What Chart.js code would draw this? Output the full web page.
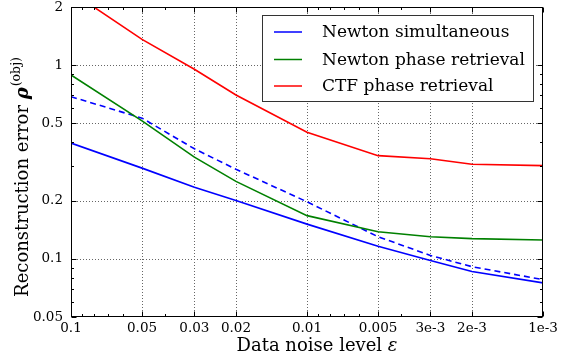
<!DOCTYPE html>
<html>
<head>
<meta charset="utf-8">
<script src="https://cdn.jsdelivr.net/npm/chart.js@4"></script>
<style>
  html, body { margin: 0; padding: 0; background: #fff; }
  #wrap { width: 561px; height: 360px; }
</style>
</head>
<body>
<div id="wrap"><canvas id="chart" width="561" height="360"></canvas></div>
<script>
// Noise levels (x) and reconstruction errors (y) for each method
const noiseLevels = [0.1, 0.05, 0.03, 0.02, 0.01, 0.005, 0.003, 0.002, 0.001];
const noiseTickLabels = ['0.1', '0.05', '0.03', '0.02', '0.01', '0.005', '3e-3', '2e-3', '1e-3'];
const errorTicks = [0.05, 0.1, 0.2, 0.5, 1, 2];
const errorTickLabels = ['0.05', '0.1', '0.2', '0.5', '1', '2'];

const newtonSimultaneous   = [0.396, 0.294, 0.234, 0.200, 0.151, 0.116, 0.098, 0.086, 0.075];
const newtonSimultaneousB  = [0.688, 0.533, 0.370, 0.290, 0.197, 0.130, 0.104, 0.091, 0.078];
const newtonPhaseRetrieval = [0.891, 0.516, 0.335, 0.251, 0.167, 0.138, 0.130, 0.127, 0.125];
const ctfPhaseRetrieval    = [2.40, 1.36, 0.954, 0.702, 0.451, 0.341, 0.329, 0.308, 0.303];

const SERIF = '"DejaVu Serif", serif';

function points(values) {
  return noiseLevels.map((x, i) => ({ x: x, y: values[i] }));
}
function labelFor(values, labels, v) {
  let best = 0;
  for (let i = 1; i < values.length; i++) {
    if (Math.abs(Math.log(values[i] / v)) < Math.abs(Math.log(values[best] / v))) best = i;
  }
  return labels[best];
}

// Dotted grid, boxed frame with inward ticks, legend and axis titles
const decorations = {
  id: 'decorations',
  beforeDatasetsDraw(chart) {
    const { ctx, chartArea: a, scales: { x, y } } = chart;
    ctx.save();
    ctx.strokeStyle = '#666';
    ctx.lineWidth = 1;
    ctx.setLineDash([1, 2]);
    noiseLevels.forEach(v => {
      const px = Math.round(x.getPixelForValue(v)) + 0.5;
      if (px <= a.left + 1 || px >= a.right - 1) return;
      ctx.beginPath(); ctx.moveTo(px, a.top); ctx.lineTo(px, a.bottom); ctx.stroke();
    });
    errorTicks.forEach(v => {
      const py = Math.round(y.getPixelForValue(v)) + 0.5;
      if (py <= a.top + 1 || py >= a.bottom - 1) return;
      ctx.beginPath(); ctx.moveTo(a.left, py); ctx.lineTo(a.right, py); ctx.stroke();
    });
    ctx.restore();
  },
  afterDatasetsDraw(chart) {
    const { ctx, chartArea: a, scales: { x, y } } = chart;
    ctx.save();
    ctx.setLineDash([]);
    ctx.strokeStyle = '#000';
    ctx.lineWidth = 1;

    // inward ticks on all four sides
    const L = Math.round(a.left) + 0.5, R = Math.round(a.right) - 0.5;
    const T = Math.round(a.top) + 0.5, B = Math.round(a.bottom) - 0.5;
    ctx.beginPath();
    for (const d of [0.001, 0.01, 0.1]) {
      for (let m = 1; m <= 9; m++) {
        const v = m * d;
        if (v < 0.001 * 0.999 || v > 0.1 * 1.001) continue;
        const major = noiseLevels.some(t => Math.abs(t / v - 1) < 1e-6);
        const len = major ? 5 : 2.5;
        const px = Math.round(x.getPixelForValue(v)) + 0.5;
        ctx.moveTo(px, B); ctx.lineTo(px, B - len);
        ctx.moveTo(px, T); ctx.lineTo(px, T + len);
      }
    }
    for (const d of [0.01, 0.1, 1]) {
      for (let m = 1; m <= 9; m++) {
        const v = m * d;
        if (v < 0.05 * 0.999 || v > 2 * 1.001) continue;
        const major = errorTicks.some(t => Math.abs(t / v - 1) < 1e-6);
        const len = major ? 5 : 2.5;
        const py = Math.round(y.getPixelForValue(v)) + 0.5;
        ctx.moveTo(L, py); ctx.lineTo(L + len, py);
        ctx.moveTo(R, py); ctx.lineTo(R - len, py);
      }
    }
    ctx.stroke();

    // frame
    ctx.strokeRect(L, T, R - L, B - T);

    // legend
    const lx = 262.5, ly = 15.5, lw = 271, lh = 86;
    ctx.fillStyle = '#fff';
    ctx.fillRect(lx, ly, lw, lh);
    ctx.strokeStyle = '#333';
    ctx.lineWidth = 1;
    ctx.strokeRect(lx, ly, lw, lh);
    const entries = chart.data.datasets.filter(ds => ds.label);
    const rowY = [32, 59.5, 86];
    ctx.font = '17px ' + SERIF;
    ctx.textBaseline = 'middle';
    ctx.textAlign = 'left';
    entries.forEach((ds, i) => {
      ctx.strokeStyle = ds.borderColor;
      ctx.lineWidth = 1.5;
      ctx.beginPath(); ctx.moveTo(274, rowY[i]); ctx.lineTo(302, rowY[i]); ctx.stroke();
      ctx.fillStyle = '#000';
      ctx.fillText(ds.label, 322, rowY[i] + 1);
    });

    // x-axis title
    ctx.fillStyle = '#000';
    ctx.textBaseline = 'alphabetic';
    const xt1 = 'Data noise level ', xt2 = 'ε';
    ctx.font = '18px ' + SERIF;
    const w1 = ctx.measureText(xt1).width;
    ctx.font = 'italic 18px ' + SERIF;
    const w2 = ctx.measureText(xt2).width;
    const xs = 317 - (w1 + w2) / 2;
    ctx.font = '18px ' + SERIF;
    ctx.fillText(xt1, xs, 351);
    ctx.font = 'italic 18px ' + SERIF;
    ctx.fillText(xt2, xs + w1, 351);

    // y-axis title
    const yt1 = 'Reconstruction error ', yt2 = 'ρ', yt3 = '(obj)';
    ctx.font = '18px ' + SERIF;
    const a1 = ctx.measureText(yt1).width;
    ctx.font = 'italic bold 18px ' + SERIF;
    const a2 = ctx.measureText(yt2).width;
    ctx.font = '12.5px ' + SERIF;
    const a3 = ctx.measureText(yt3).width;
    const total = a1 + a2 + a3 + 1;
    ctx.translate(28, 177);
    ctx.rotate(-Math.PI / 2);
    let cx = -total / 2;
    ctx.font = '18px ' + SERIF;
    ctx.fillText(yt1, cx, 0); cx += a1;
    ctx.font = 'italic bold 18px ' + SERIF;
    ctx.fillText(yt2, cx, 0); cx += a2 + 1;
    ctx.font = '12.5px ' + SERIF;
    ctx.fillText(yt3, cx, -8);
    ctx.restore();
  }
};

new Chart(document.getElementById('chart'), {
  type: 'line',
  data: {
    datasets: [
      { label: 'Newton simultaneous', data: points(newtonSimultaneous),
        borderColor: '#0000ff', borderWidth: 1.6, pointRadius: 0, tension: 0, fill: false },
      { label: 'Newton phase retrieval', data: points(newtonPhaseRetrieval),
        borderColor: '#008000', borderWidth: 1.6, pointRadius: 0, tension: 0, fill: false },
      { label: 'CTF phase retrieval', data: points(ctfPhaseRetrieval),
        borderColor: '#ff0000', borderWidth: 1.6, pointRadius: 0, tension: 0, fill: false },
      { label: '', data: points(newtonSimultaneousB),
        borderColor: '#0000ff', borderWidth: 1.6, borderDash: [6, 4], pointRadius: 0, tension: 0, fill: false }
    ]
  },
  options: {
    responsive: false,
    animation: false,
    devicePixelRatio: 1,
    layout: { padding: { left: 0, right: 18, top: 7, bottom: 0 } },
    plugins: { legend: { display: false }, tooltip: { enabled: false } },
    scales: {
      x: {
        type: 'logarithmic', reverse: true, min: 0.001, max: 0.1,
        afterBuildTicks: s => { s.ticks = noiseLevels.map(v => ({ value: v })); },
        afterFit: s => { s.height = 43; s.paddingLeft = 0; s.paddingRight = 0; },
        grid: { display: false, drawTicks: false },
        border: { display: false },
        ticks: {
          autoSkip: false, maxRotation: 0, minRotation: 0, padding: 3, color: '#000',
          font: { family: SERIF, size: 13.5 },
          callback: v => labelFor(noiseLevels, noiseTickLabels, v)
        }
      },
      y: {
        type: 'logarithmic', min: 0.05, max: 2,
        afterBuildTicks: s => { s.ticks = errorTicks.map(v => ({ value: v })); },
        afterFit: s => { s.width = 71; s.paddingTop = 0; s.paddingBottom = 0; },
        grid: { display: false, drawTicks: false },
        border: { display: false },
        ticks: {
          autoSkip: false, padding: 8, color: '#000',
          font: { family: SERIF, size: 13.5 },
          callback: v => labelFor(errorTicks, errorTickLabels, v)
        }
      }
    }
  },
  plugins: [decorations]
});
</script>
</body>
</html>
